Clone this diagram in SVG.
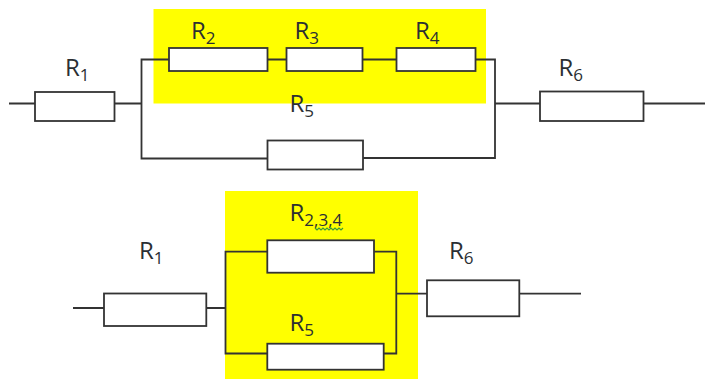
<svg xmlns="http://www.w3.org/2000/svg" width="705" height="379" viewBox="0 0 705 379">
<style>
.bg{fill:#ffff00;stroke:none}
.r{fill:#fff;stroke:#333;stroke-width:1.8}
.w{fill:none;stroke:#333;stroke-width:1.8}
.t{font-family:"Open Sans","Noto Sans",sans-serif;font-size:24px;fill:#2b2f33}
.s{font-size:17px}
.sq{fill:none;stroke:#3a9a3a;stroke-width:1.2}
</style>
<rect width="705" height="379" fill="#fff"/>
<g id="highlights">
<rect class="bg" x="153.5" y="9" width="332.5" height="94.5"/>
<rect class="bg" x="225" y="191" width="193" height="188"/>
</g>
<g id="connectors">
<path class="w" d="M9 103.5H35M114.5 103.5H141.5M169 59.5H141.5V158.5H267.5M267.5 59.5H286.5M362.5 59.5H396.5M475.5 59.5H495V158H363M495 103.5H540M643.5 103.5H705"/>
<path class="w" d="M73 308H104M206 308H225.5M267.5 251.7H225.5V353.5H267.5M374 251.7H396.3V353.5H383.7M396.3 293.7H427M519.3 293.7H581"/>
</g>
<g id="top-r1"><rect class="r" x="35" y="92" width="79.5" height="29"/><text class="t" x="65" y="75.5">R<tspan class="s" y="80.5">1</tspan></text></g>
<g id="top-r2"><rect class="r" x="169" y="48" width="98.5" height="23"/><text class="t" x="191" y="39">R<tspan class="s" y="44">2</tspan></text></g>
<g id="top-r3"><rect class="r" x="286.5" y="48" width="76" height="23"/><text class="t" x="294.5" y="39">R<tspan class="s" y="44">3</tspan></text></g>
<g id="top-r4"><rect class="r" x="396.5" y="48" width="79" height="23"/><text class="t" x="415" y="39">R<tspan class="s" y="44">4</tspan></text></g>
<g id="top-r5"><rect class="r" x="267.5" y="140.5" width="95.5" height="29"/><text class="t" x="289.5" y="112">R<tspan class="s" y="116.5">5</tspan></text></g>
<g id="top-r6"><rect class="r" x="540" y="91.5" width="103.5" height="29.5"/><text class="t" x="558.5" y="75.5">R<tspan class="s" y="80.5">6</tspan></text></g>
<g id="bottom-r1"><rect class="r" x="104" y="293.5" width="102.3" height="32.5"/><text class="t" x="139" y="258.5">R<tspan class="s" y="263.5">1</tspan></text></g>
<g id="bottom-r234"><rect class="r" x="267.3" y="240.3" width="106.7" height="32.4"/><text class="t" x="289.5" y="221">R<tspan class="s" y="226">2,3,4</tspan></text><path class="sq" d="M315 228l2 2 2-2 2 2 2-2 2 2 2-2 2 2 2-2 2 2 2-2 2 2 2-2 2 2 2-2"/></g>
<g id="bottom-r5"><rect class="r" x="267.3" y="343.7" width="116.4" height="26"/><text class="t" x="289.5" y="331">R<tspan class="s" y="336">5</tspan></text></g>
<g id="bottom-r6"><rect class="r" x="427" y="280.3" width="92.3" height="36"/><text class="t" x="449" y="258.5">R<tspan class="s" y="263.5">6</tspan></text></g>
</svg>
